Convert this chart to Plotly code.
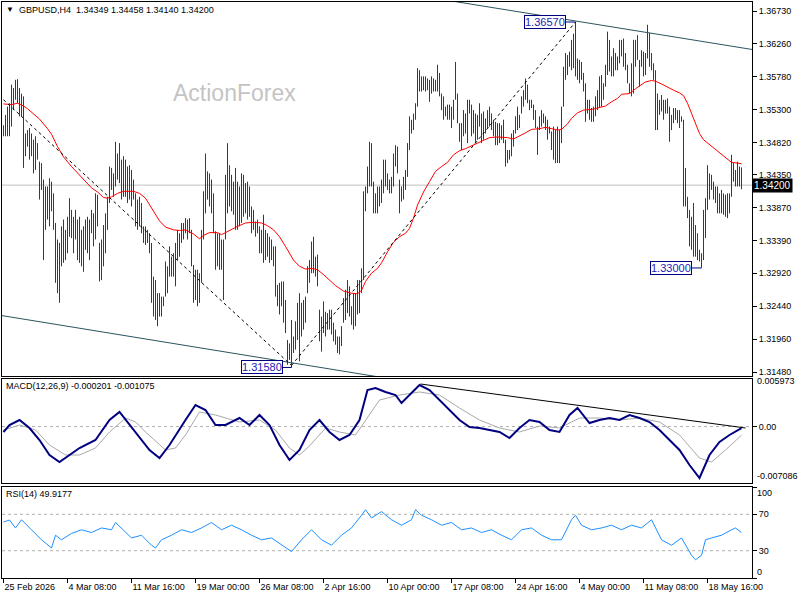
import plotly.graph_objects as go

# ---------------- data ----------------
bar_high = [
1.3507,1.3522,1.3534,1.3539,1.3566,1.3561,1.3573,1.3574,1.3561,1.3553,
1.3549,1.3495,1.3500,1.3503,1.3495,1.3486,1.3491,1.3481,1.3454,1.3452,
1.3428,1.3418,1.3418,1.3430,1.3425,1.3408,1.3365,1.3341,1.3336,1.3360,
1.3370,1.3355,1.3374,1.3401,1.3384,1.3374,1.3384,1.3370,1.3374,1.3355,
1.3360,1.3370,1.3374,1.3370,1.3384,1.3379,1.3408,1.3406,1.3336,1.3341,
1.3362,1.3379,1.3403,1.3447,1.3445,1.3437,1.3483,1.3466,1.3481,1.3457,
1.3462,1.3457,1.3447,1.3449,1.3442,1.3428,1.3408,1.3399,1.3403,1.3394,
1.3360,1.3360,1.3355,1.3350,1.3336,1.3287,1.3282,1.3263,1.3263,1.3258,
1.3258,1.3309,1.3302,1.3331,1.3316,1.3321,1.3336,1.3355,1.3350,1.3365,
1.3365,1.3372,1.3370,1.3372,1.3355,1.3304,1.3297,1.3297,1.3292,1.3355,
1.3411,1.3466,1.3440,1.3437,1.3428,1.3408,1.3353,1.3350,1.3350,1.3341,
1.3341,1.3435,1.3481,1.3449,1.3435,1.3425,1.3445,1.3425,1.3418,1.3437,
1.3435,1.3423,1.3425,1.3418,1.3389,1.3384,1.3367,1.3370,1.3360,1.3355,
1.3377,1.3355,1.3350,1.3345,1.3341,1.3331,1.3331,1.3275,1.3278,1.3280,
1.3280,1.3253,1.3195,1.3190,1.3224,1.3200,1.3222,1.3249,1.3263,1.3249,
1.3253,1.3258,1.3302,1.3311,1.3338,1.3345,1.3316,1.3319,1.3239,1.3229,
1.3251,1.3236,1.3234,1.3239,1.3239,1.3220,1.3210,1.3200,1.3200,1.3215,
1.3256,1.3268,1.3282,1.3273,1.3244,1.3263,1.3263,1.3282,1.3282,1.3299,
1.3411,1.3418,1.3447,1.3483,1.3481,1.3425,1.3408,1.3418,1.3418,1.3428,
1.3457,1.3457,1.3437,1.3428,1.3432,1.3466,1.3478,1.3476,1.3428,1.3418,
1.3432,1.3442,1.3481,1.3520,1.3515,1.3524,1.3539,1.3590,1.3587,1.3578,
1.3578,1.3578,1.3575,1.3573,1.3578,1.3575,1.3573,1.3595,1.3583,1.3553,
1.3549,1.3534,1.3537,1.3537,1.3534,1.3544,1.3599,1.3553,1.3510,1.3510,
1.3529,1.3524,1.3544,1.3544,1.3537,1.3529,1.3524,1.3522,1.3539,1.3524,
1.3527,1.3517,1.3529,1.3534,1.3524,1.3515,1.3512,1.3510,1.3510,1.3507,
1.3515,1.3486,1.3471,1.3471,1.3495,1.3500,1.3520,1.3534,1.3522,1.3549,
1.3558,1.3575,1.3566,1.3544,1.3544,1.3537,1.3529,1.3505,1.3520,1.3529,
1.3524,1.3520,1.3515,1.3505,1.3498,1.3505,1.3500,1.3505,1.3500,1.3534,
1.3592,1.3612,1.3609,1.3614,1.3631,1.3640,1.3657,1.3604,1.3602,1.3599,
1.3583,1.3568,1.3544,1.3544,1.3532,1.3534,1.3549,1.3558,1.3578,1.3580,
1.3568,1.3595,1.3643,1.3631,1.3607,1.3619,1.3612,1.3607,1.3631,1.3631,
1.3633,1.3612,1.3595,1.3568,1.3597,1.3631,1.3631,1.3638,1.3602,1.3616,
1.3614,1.3612,1.3653,1.3641,1.3612,1.3597,1.3587,1.3553,1.3544,1.3551,
1.3544,1.3544,1.3546,1.3534,1.3522,1.3532,1.3532,1.3529,1.3529,1.3520,
1.3515,1.3445,1.3403,1.3384,1.3374,1.3394,1.3362,1.3350,1.3326,1.3321,
1.3384,1.3401,1.3449,1.3437,1.3435,1.3425,1.3418,1.3418,1.3408,1.3413,
1.3408,1.3406,1.3408,1.3408,1.3464,1.3452,1.3442,1.3454,1.3447,1.34458]

bar_low = [
1.3491,1.3491,1.3491,1.3491,1.3505,1.3529,1.3544,1.3539,1.3520,1.3520,
1.3445,1.3462,1.3476,1.3457,1.3462,1.3437,1.3442,1.3457,1.3399,1.3413,
1.3311,1.3355,1.3370,1.3360,1.3382,1.3355,1.3278,1.3263,1.3249,1.3302,
1.3307,1.3311,1.3321,1.3345,1.3343,1.3321,1.3341,1.3311,1.3307,1.3302,
1.3294,1.3326,1.3321,1.3311,1.3350,1.3331,1.3341,1.3360,1.3280,1.3282,
1.3302,1.3321,1.3355,1.3394,1.3413,1.3403,1.3418,1.3428,1.3423,1.3399,
1.3403,1.3403,1.3394,1.3399,1.3389,1.3399,1.3360,1.3355,1.3360,1.3350,
1.3336,1.3333,1.3336,1.3321,1.3249,1.3229,1.3224,1.3215,1.3229,1.3229,
1.3244,1.3258,1.3263,1.3287,1.3287,1.3287,1.3273,1.3311,1.3316,1.3336,
1.3341,1.3350,1.3341,1.3350,1.3302,1.3249,1.3253,1.3244,1.3249,1.3278,
1.3341,1.3379,1.3399,1.3389,1.3379,1.3350,1.3297,1.3302,1.3297,1.3297,
1.3253,1.3341,1.3379,1.3389,1.3382,1.3377,1.3355,1.3355,1.3360,1.3365,
1.3374,1.3379,1.3370,1.3374,1.3350,1.3355,1.3345,1.3350,1.3321,1.3321,
1.3307,1.3311,1.3316,1.3307,1.3311,1.3302,1.3258,1.3244,1.3232,1.3244,
1.3220,1.3205,1.3159,1.3166,1.3158,1.3176,1.3181,1.3195,1.3164,1.3200,
1.3210,1.3220,1.3263,1.3278,1.3292,1.3292,1.3287,1.3273,1.3193,1.3178,
1.3205,1.3200,1.3210,1.3210,1.3203,1.3193,1.3188,1.3176,1.3174,1.3186,
1.3220,1.3224,1.3234,1.3229,1.3217,1.3210,1.3215,1.3232,1.3234,1.3263,
1.3282,1.3382,1.3408,1.3418,1.3418,1.3379,1.3379,1.3379,1.3389,1.3394,
1.3408,1.3418,1.3413,1.3408,1.3408,1.3418,1.3447,1.3437,1.3379,1.3396,
1.3399,1.3413,1.3432,1.3471,1.3495,1.3500,1.3515,1.3534,1.3556,1.3556,
1.3558,1.3556,1.3558,1.3541,1.3553,1.3556,1.3556,1.3556,1.3549,1.3529,
1.3515,1.3520,1.3515,1.3515,1.3503,1.3515,1.3544,1.3510,1.3483,1.3471,
1.3491,1.3495,1.3481,1.3524,1.3491,1.3495,1.3481,1.3486,1.3505,1.3481,
1.3486,1.3495,1.3503,1.3505,1.3500,1.3491,1.3478,1.3478,1.3481,1.3486,
1.3481,1.3447,1.3452,1.3457,1.3462,1.3476,1.3495,1.3500,1.3503,1.3524,
1.3534,1.3544,1.3539,1.3529,1.3532,1.3515,1.3503,1.3464,1.3500,1.3505,
1.3510,1.3500,1.3486,1.3495,1.3471,1.3457,1.3452,1.3452,1.3452,1.3481,
1.3534,1.3573,1.3580,1.3592,1.3587,1.3590,1.3578,1.3573,1.3568,1.3573,
1.3556,1.3512,1.3524,1.3515,1.3512,1.3512,1.3520,1.3529,1.3532,1.3534,
1.3544,1.3563,1.3580,1.3585,1.3578,1.3578,1.3587,1.3587,1.3597,1.3607,
1.3592,1.3587,1.3568,1.3553,1.3549,1.3553,1.3592,1.3602,1.3563,1.3592,
1.3578,1.3580,1.3604,1.3592,1.3587,1.3573,1.3500,1.3500,1.3522,1.3527,
1.3515,1.3524,1.3524,1.3483,1.3500,1.3510,1.3515,1.3510,1.3503,1.3512,
1.3389,1.3389,1.3372,1.3331,1.3326,1.3316,1.3316,1.3311,1.3309,1.3300,
1.3311,1.3343,1.3384,1.3399,1.3413,1.3399,1.3394,1.3379,1.3379,1.3379,
1.3377,1.3374,1.3372,1.3379,1.3403,1.3425,1.3418,1.3418,1.3418,1.34140]

ma_idx = [0,4,7,10,12,15,18,22,24,27,30,34,37,40,44,47,50,52,54,57,
          60,65,68,71,74,78,81,85,88,91,95,98,100,103,107,109,111,114,117,121,
          125,129,132,135,138,141,145,148,151,154,157,160,163,166,170,174,177,179,181,184,
          187,189,192,195,198,201,203,205,207,210,213,216,219,222,225,228,231,234,237,240,
          243,247,252,255,258,261,264,268,271,274,277,279,282,284,287,290,294,297,301,304,
          307,309,313,316,318,321,324,326,329,332,335,338,340,342,345,348,350,353,356,359,
          362,364,367,369]
ma_val = [1.3538,1.3537,1.3539,1.3535,1.3531,1.3524,1.3516,1.3502,1.3494,1.3476,
          1.3461,1.3447,1.3438,1.3429,1.3416,1.3410,1.3402,1.3401,1.3403,1.3408,
          1.3411,1.3411,1.3408,1.3401,1.3386,1.3368,1.3359,1.3355,1.3354,1.3355,
          1.3349,1.3342,1.3347,1.3351,1.3351,1.3348,1.3351,1.3356,1.3360,1.3365,
          1.3366,1.3365,1.3361,1.3355,1.3345,1.3331,1.3311,1.3302,1.3298,1.3299,
          1.3297,1.3290,1.3282,1.3274,1.3266,1.3263,1.3262,1.3267,1.3280,1.3292,
          1.3299,1.3307,1.3323,1.3337,1.3345,1.3350,1.3357,1.3372,1.3391,1.3410,
          1.3425,1.3440,1.3447,1.3453,1.3464,1.3470,1.3473,1.3477,1.3482,1.3486,
          1.3489,1.3490,1.3489,1.3487,1.3491,1.3496,1.3501,1.3502,1.3504,1.3502,
          1.3500,1.3501,1.3509,1.3517,1.3525,1.3529,1.3530,1.3532,1.3535,1.3541,
          1.3546,1.3552,1.3553,1.3560,1.3564,1.3570,1.3572,1.3571,1.3567,1.3562,
          1.3558,1.3554,1.3550,1.3539,1.3517,1.3495,1.3486,1.3479,1.3473,1.3465,
          1.3458,1.3453,1.3452,1.3451]

macd_idx = [0,3,8,13,18,23,28,33,38,46,53,58,63,68,73,78,83,91,96,101,
            106,111,118,123,128,133,138,143,148,153,158,163,168,173,178,182,186,191,196,199,
            203,208,213,218,223,228,233,238,243,248,253,258,263,268,273,278,283,287,293,298,
            303,308,313,318,323,328,333,338,343,348,353,358,363,369]
macd_val = [-0.000682,0.000197,0.000825,-0.000180,-0.001687,-0.003570,-0.004449,-0.003570,-0.002691,-0.001687,
            0.000825,0.001829,0.000197,-0.001310,-0.002942,-0.003947,-0.002315,0.000825,0.002708,0.002080,
            0.000197,0.000197,0.001076,0.000197,0.001453,0.000197,-0.002315,-0.004198,-0.002942,-0.000431,
            0.000825,-0.000682,-0.001687,-0.001059,0.000825,0.004592,0.004843,0.004341,0.003964,0.002959,
            0.003964,0.005220,0.004592,0.003336,0.002080,0.000825,-0.000054,-0.000180,-0.000431,-0.000682,
            -0.001436,-0.000180,0.000825,0.000574,-0.000431,-0.000682,0.001453,0.002332,0.000448,0.000825,
            0.001076,0.000825,0.001453,0.001076,0.000574,-0.000431,-0.001687,-0.002942,-0.004826,-0.006458,
            -0.003570,-0.001938,-0.001059,-0.000201]

signal_idx = [0,8,16,23,31,38,46,53,61,66,71,81,86,91,98,106,118,128,136,143,
              148,153,161,168,176,181,188,198,208,218,228,238,248,258,268,278,288,298,308,318,
              328,338,348,354,361,369]
signal_val = [-0.000431,0.000197,-0.000431,-0.002315,-0.003570,-0.003570,-0.002691,-0.000682,0.001076,0.000574,
              -0.000682,-0.002942,-0.002691,-0.001059,0.001829,0.001453,0.000574,0.000825,-0.000431,-0.002691,
              -0.003570,-0.002440,-0.000180,-0.000682,-0.001059,0.000825,0.003336,0.003964,0.004341,0.003964,
              0.002332,0.000825,-0.000180,-0.000682,0.000071,-0.000180,0.001076,0.001076,0.000825,0.001076,
              0.000574,-0.001059,-0.003947,-0.004449,-0.002942,-0.001075]

rsi_idx = [0,3,6,9,14,19,24,26,29,34,39,44,49,54,56,59,64,69,74,76,
           79,84,89,94,99,104,109,114,119,124,129,134,139,144,149,154,159,164,169,174,
           179,181,184,189,194,199,204,206,209,214,219,224,229,234,239,244,249,254,259,264,
           269,274,279,284,286,289,294,299,304,309,314,319,324,329,334,339,344,346,349,351,
           354,359,364,366,369]
rsi_val = [61.5,63.7,55.0,64.0,53.0,42.0,33.0,47.0,42.0,49.0,53.0,50.0,55.0,53.0,61.0,55.0,44.0,47.0,36.0,33.0,
           42.0,47.0,53.0,50.0,55.0,61.0,53.0,58.0,53.0,47.0,42.0,44.0,36.0,29.0,42.0,53.0,42.0,36.0,47.0,55.0,
           69.0,75.0,66.0,73.0,64.0,58.0,64.0,75.0,69.0,64.0,58.0,61.0,53.0,55.0,50.0,53.0,47.0,42.0,53.0,55.0,
           47.0,42.0,42.0,64.0,69.0,58.0,53.0,55.0,58.0,53.0,58.0,55.0,64.0,42.0,36.0,44.0,25.0,20.0,25.0,42.0,
           44.0,47.0,53.0,55.0,49.9177]

price_ticks = [1.36730,1.36260,1.35780,1.35300,1.34820,1.34350,1.33870,1.33390,1.32920,1.32440,1.31960,1.31480]
time_idx = [0,32,64,96,128,160,192,224,256,288,320,352]
time_labels = ["25 Feb 2026","4 Mar 08:00","11 Mar 16:00","19 Mar 00:00","26 Mar 08:00","2 Apr 16:00",
               "10 Apr 00:00","17 Apr 08:00","24 Apr 16:00","4 May 00:00","11 May 08:00","18 May 16:00"]
last_price = 1.34200
swing_low, swing_high, recent_low = 1.31580, 1.36570, 1.33000
macd_top, macd_bottom = 0.005973, -0.007086

# ---------------- layout geometry ----------------
W, H = 800, 600
ML, MR, MT, MB = 2, 48, 2, 22
PW, PH = W - ML - MR, H - MT - MB
def py(yp):
    return (H - MB - yp) / PH
def pxp(xp):
    return (xp - ML) / PW

FONT = "Liberation Sans, Arial, sans-serif"
BAR_C = "#17465A"
TL_C = "#2B5560"

fig = go.Figure()

bx, by = [], []
for i, (h, l) in enumerate(zip(bar_high, bar_low)):
    bx += [i, i, None]
    by += [l, h, None]

XR = [-0.75, 374.25]

fig.add_trace(go.Scatter(x=XR, y=[last_price, last_price], mode="lines",
                         line=dict(color="#C0C0C0", width=1), hoverinfo="skip"))
fig.add_trace(go.Scatter(x=bx, y=by, mode="lines", line=dict(color=BAR_C, width=1),
                         hoverinfo="skip"))
fig.add_trace(go.Scatter(x=ma_idx, y=ma_val, mode="lines", line=dict(color="#FF0000", width=1),
                         hoverinfo="skip"))

def ext_line(x0, y0, x1, y1, xa, xb):
    s = (y1 - y0) / (x1 - x0)
    return [xa, xb], [y0 + s * (xa - x0), y0 + s * (xb - x0)]

ux, uy = ext_line(229.5, 1.3685, 374.5, 1.3617, -5, 380)
fig.add_trace(go.Scatter(x=ux, y=uy, mode="lines", line=dict(color=TL_C, width=1), hoverinfo="skip"))
lx, ly = ext_line(0, 1.3230, 181.8, 1.3144, -5, 380)
fig.add_trace(go.Scatter(x=lx, y=ly, mode="lines", line=dict(color=TL_C, width=1), hoverinfo="skip"))

fig.add_trace(go.Scatter(x=[0, 144], y=[1.3544, swing_low], mode="lines",
                         line=dict(color="#000000", width=1, dash="3px,3px"), hoverinfo="skip"))
fig.add_trace(go.Scatter(x=[144, 286], y=[swing_low, swing_high], mode="lines",
                         line=dict(color="#000000", width=1, dash="3px,3px"), hoverinfo="skip"))

fig.add_trace(go.Scatter(x=[139.5, 144, 144], y=[1.3155, 1.3155, swing_low], mode="lines",
                         line=dict(color="#000080", width=1), hoverinfo="skip"))
fig.add_trace(go.Scatter(x=[281.2, 286], y=[swing_high, swing_high], mode="lines",
                         line=dict(color="#000080", width=1), hoverinfo="skip"))
fig.add_trace(go.Scatter(x=[344.2, 349, 349], y=[1.32996, 1.32996, recent_low], mode="lines",
                         line=dict(color="#000080", width=1), hoverinfo="skip"))

# MACD
fig.add_trace(go.Scatter(x=XR, y=[0, 0], mode="lines", xaxis="x2", yaxis="y2",
                         line=dict(color="#B0B0B0", width=1, dash="3px,3px"), hoverinfo="skip"))
fig.add_trace(go.Scatter(x=signal_idx, y=signal_val, mode="lines", xaxis="x2", yaxis="y2",
                         line=dict(color="#A9A9A9", width=1), hoverinfo="skip"))
fig.add_trace(go.Scatter(x=macd_idx, y=macd_val, mode="lines", xaxis="x2", yaxis="y2",
                         line=dict(color="#000080", width=2), hoverinfo="skip"))
mx, my = ext_line(208.5, 0.005345, 371, -0.00018, 208.5, 371)
fig.add_trace(go.Scatter(x=mx, y=my, mode="lines", xaxis="x2", yaxis="y2",
                         line=dict(color="#000000", width=1), hoverinfo="skip"))

# RSI
for lev in (70, 30):
    fig.add_trace(go.Scatter(x=XR, y=[lev, lev], mode="lines", xaxis="x3", yaxis="y3",
                             line=dict(color="#B0B0B0", width=1, dash="3px,3px"), hoverinfo="skip"))
fig.add_trace(go.Scatter(x=rsi_idx, y=rsi_val, mode="lines", xaxis="x3", yaxis="y3",
                         line=dict(color="#1E90FF", width=1), hoverinfo="skip"))

axis_common = dict(showline=True, linecolor="#000000", linewidth=1, mirror=True,
                   showgrid=False, zeroline=False)
tickfont = dict(family=FONT, size=9, color="#000000")

fig.update_layout(
    width=W, height=H, margin=dict(l=ML, r=MR, t=MT, b=MB),
    paper_bgcolor="#FFFFFF", plot_bgcolor="#FFFFFF", showlegend=False,
    xaxis=dict(domain=[0, 1], range=XR, anchor="y", showticklabels=False, ticks="", **axis_common),
    xaxis2=dict(domain=[0, 1], range=XR, anchor="y2", showticklabels=False, ticks="", matches="x", **axis_common),
    xaxis3=dict(domain=[0, 1], range=XR, anchor="y3", matches="x", tickvals=time_idx, ticktext=time_labels,
                ticks="outside", ticklen=4, tickcolor="#000000", tickfont=tickfont,
                ticklabelposition="outside right", **axis_common),
    yaxis=dict(domain=[py(376), 1.0], range=[1.31426, 1.36861], side="right", anchor="x",
               tickvals=price_ticks, ticktext=["%.5f" % v for v in price_ticks],
               ticks="outside", ticklen=4, tickcolor="#000000", tickfont=tickfont, **axis_common),
    yaxis2=dict(domain=[py(483), py(379)], range=[macd_bottom, macd_top], side="right", anchor="x2",
                tickvals=[0], ticktext=["0.00"], ticks="outside", ticklen=4, tickcolor="#000000",
                tickfont=tickfont, **axis_common),
    yaxis3=dict(domain=[0, py(487)], range=[0, 100], side="right", anchor="x3",
                tickvals=[100, 70, 30, 0], ticktext=["", "70", "30", ""], ticks="outside", ticklen=4,
                tickcolor="#000000", tickfont=tickfont, **axis_common),
)

def ann(text, xp, yp, size=9, color="#000000", xanchor="left", **kw):
    fig.add_annotation(text=text, x=pxp(xp), y=py(yp), xref="paper", yref="paper",
                       showarrow=False, xanchor=xanchor, yanchor="middle",
                       font=dict(family=FONT, size=size, color=color), **kw)

ann("\u25BC", 4, 10, size=8)
ann("GBPUSD,H4  1.34349 1.34458 1.34140 1.34200", 17, 10)
ann("MACD(12,26,9) -0.000201 -0.001075", 4, 386)
ann("RSI(14) 49.9177", 4, 494)
ann("ActionForex", 171, 93, size=23, color="#C4C4C4")

ann("0.005973", 755, 381)
ann("-0.007086", 755, 476)
ann("100", 755, 493)
ann("0", 755, 572)

fig.add_annotation(text="1.34200", x=1.0, xref="paper", y=last_price, yref="y", xanchor="left",
                   yanchor="middle", showarrow=False, bgcolor="#000000", borderpad=1,
                   font=dict(family=FONT, size=10, color="#FFFFFF"))

for txt, xi, yv in [("1.31580", 139.5, 1.3155), ("1.36570", 281.2, swing_high), ("1.33000", 344.2, 1.32996)]:
    fig.add_annotation(text=txt, x=xi, y=yv, xref="x", yref="y", xanchor="right", yanchor="middle",
                       showarrow=False, bgcolor="#FFFFFF", bordercolor="#000080", borderwidth=1,
                       borderpad=0, font=dict(family=FONT, size=11, color="#1C1CB8"))

fig.write_html("out.html")
